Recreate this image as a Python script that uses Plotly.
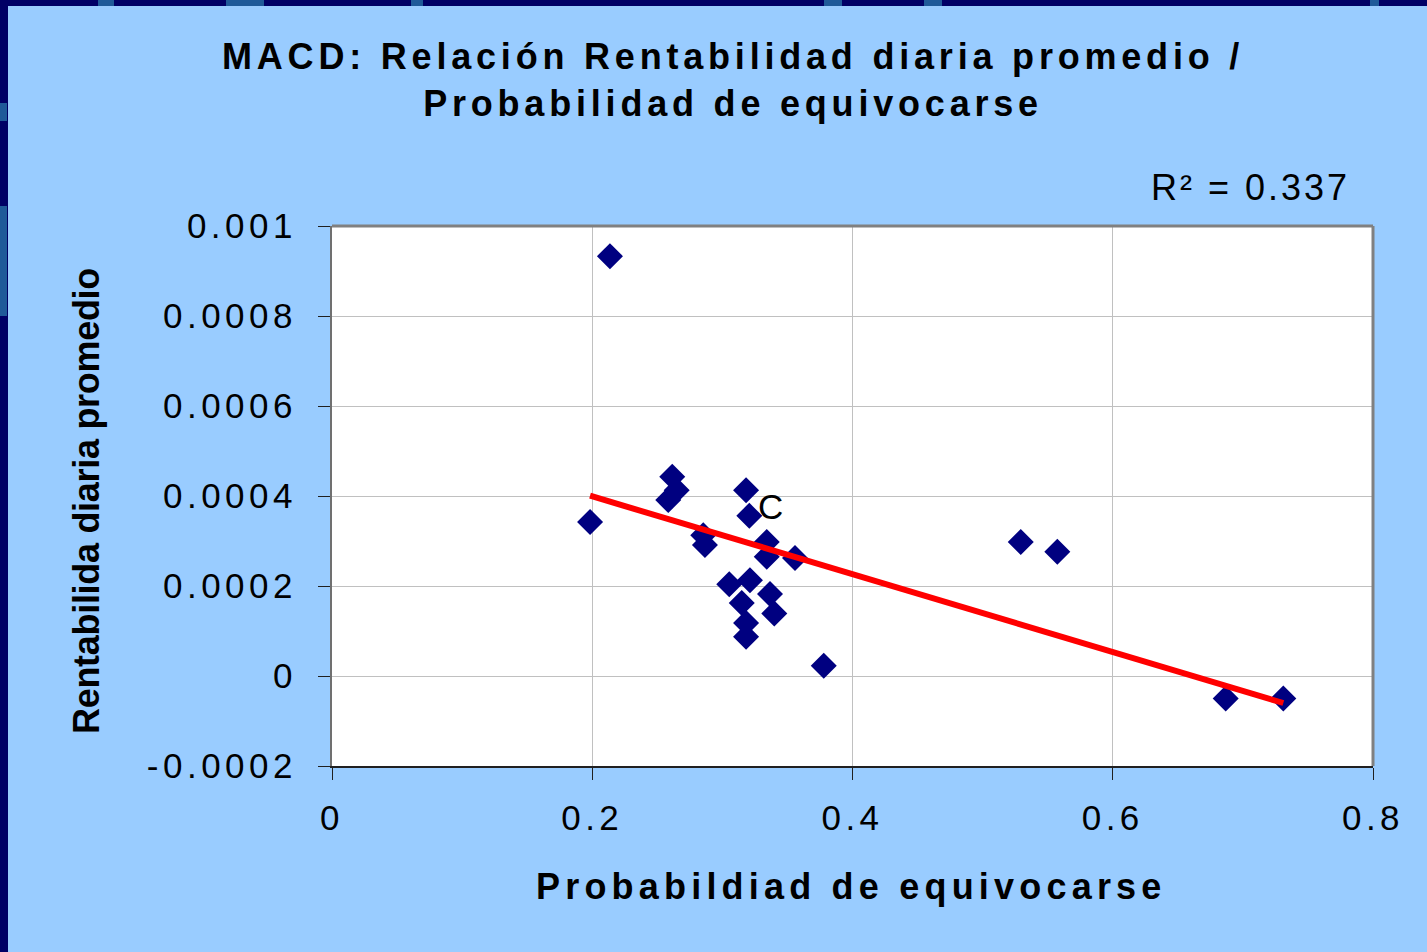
import numpy as np
import plotly.graph_objects as go

# probability of being wrong vs. average daily return
prob_error = [0.2136, 0.1983, 0.2615, 0.2649, 0.2584, 0.3182, 0.3207, 0.2853,
              0.2866, 0.3341, 0.3341, 0.3558, 0.3053, 0.3212, 0.3366, 0.3149,
              0.3399, 0.3182, 0.3182, 0.3779, 0.5293, 0.5574, 0.6868, 0.7311]
avg_return = [0.000933, 0.000342, 0.000443, 0.000413, 0.000391, 0.000413,
              0.000356, 0.000313, 0.000291, 0.000298, 0.000265, 0.000262,
              0.000204, 0.000213, 0.000182, 0.000162, 0.000139, 0.000118,
              0.000087, 0.000023, 0.000298, 0.000276, -0.000050, -0.000050]

x_ticks = [0, 0.2, 0.4, 0.6, 0.8]
x_ticktext = ['0', '0.2', '0.4', '0.6', '0.8']
y_ticks = [-0.0002, 0, 0.0002, 0.0004, 0.0006, 0.0008, 0.001]
y_ticktext = ['-0.0002', '0', '0.0002', '0.0004', '0.0006', '0.0008', '0.001']

label_point = (0.3366, 0.000376)
r2_text = 'R² = 0.337'

W, H = 1427, 952
L, R, T, B = 332, 54, 226, 186
FONT = 'Liberation Sans, Arial, sans-serif'
BG = '#99CCFF'
NAVY = '#000066'
SWOOSH = '#1F5A99'


def px(xp):
    return (xp - L) / (W - L - R)


def py(yp):
    return (H - B - yp) / (H - T - B)


def spaced(text, sp):
    # the original slide text is stretched wide
    return '<span style="letter-spacing:%.1fpx">%s</span>' % (sp, text)


def frame_rect(x0, x1, y0, y1, color):
    fig.add_shape(type='rect', xref='paper', yref='paper', layer='below',
                  x0=px(x0), x1=px(x1), y0=py(y1), y1=py(y0),
                  fillcolor=color, line=dict(width=0))


x = np.array(prob_error)
y = np.array(avg_return)
slope, intercept = np.polyfit(x, y, 1)
x_fit = np.array([x.min(), x.max()])
y_fit = slope * x_fit + intercept

fig = go.Figure()

fig.add_trace(go.Scatter(
    x=prob_error,
    y=avg_return,
    mode='markers',
    marker=dict(color='#000080', symbol='diamond', size=20, line=dict(width=0)),
    showlegend=False,
))
fig.add_trace(go.Scatter(
    x=x_fit,
    y=y_fit,
    mode='lines',
    line=dict(color='#FF0000', width=6),
    showlegend=False,
))

fig.add_annotation(
    x=label_point[0], y=label_point[1], text='C', showarrow=False,
    font=dict(family=FONT, size=35, color='black'),
    xanchor='center', yanchor='middle',
)
fig.add_annotation(
    xref='paper', yref='paper', x=px(733), y=py(80),
    text=spaced('MACD: Relación Rentabilidad diaria promedio /', 4.8) + '<br>'
    + spaced('Probabilidad de equivocarse', 4.8),
    showarrow=False, xanchor='center', yanchor='middle',
    font=dict(family=FONT, size=36, color='black', weight='bold'),
)
fig.add_annotation(
    xref='paper', yref='paper', x=px(1352), y=py(187), text=spaced(r2_text, 3.0),
    showarrow=False, xanchor='right', yanchor='middle',
    font=dict(family=FONT, size=36, color='black'),
)
fig.add_annotation(
    xref='paper', yref='paper', x=px(851), y=py(886),
    text=spaced('Probabildiad de equivocarse', 5.2), showarrow=False,
    xanchor='center', yanchor='middle',
    font=dict(family=FONT, size=36, color='black', weight='bold'),
)
fig.add_annotation(
    xref='paper', yref='paper', x=px(86), y=py(501),
    text=spaced('Rentabilida diaria promedio', -0.3), showarrow=False, textangle=-90,
    xanchor='center', yanchor='middle',
    font=dict(family=FONT, size=36, color='black', weight='bold'),
)

# plot area border (top and right) in grey
fig.add_shape(type='line', xref='paper', yref='paper', x0=0, x1=1, y0=1, y1=1,
              line=dict(color='#808080', width=3))
fig.add_shape(type='line', xref='paper', yref='paper', x0=1, x1=1, y0=0, y1=1,
              line=dict(color='#808080', width=3))

# dark frame of the slide on the left and top edges, with its lighter streaks
frame_rect(0, 8, 0, H, NAVY)
frame_rect(0, W, 0, 6, NAVY)
for a, b in [(98, 114), (226, 264), (411, 423), (824, 842), (924, 942), (1370, 1379)]:
    frame_rect(a, b, 0, 6, SWOOSH)
for a, b in [(103, 121), (206, 316)]:
    frame_rect(0, 7, a, b, SWOOSH)

fig.update_layout(
    width=W, height=H,
    margin=dict(l=L, r=R, t=T, b=B),
    paper_bgcolor=BG,
    plot_bgcolor='white',
    font=dict(family=FONT, size=35, color='black'),
    xaxis=dict(
        range=[0, 0.8], tickvals=x_ticks,
        ticktext=[spaced(t, 4.5) for t in x_ticktext],
        showgrid=True, gridcolor='#C0C0C0', gridwidth=1,
        showline=True, linecolor='#202020', linewidth=2,
        ticks='outside', ticklen=12, tickcolor='#202020', tickwidth=1,
        zeroline=False, ticklabelstandoff=8,
    ),
    yaxis=dict(
        range=[-0.0002, 0.001], tickvals=y_ticks,
        ticktext=[spaced(t, 4.5) for t in y_ticktext],
        showgrid=True, gridcolor='#C0C0C0', gridwidth=1,
        showline=True, linecolor='#707070', linewidth=2,
        ticks='outside', ticklen=12, tickcolor='#202020', tickwidth=1,
        zeroline=False, ticklabelstandoff=14,
    ),
)

fig.write_html('out.html', config={'displayModeBar': False},
               post_script="document.body.style.margin='0px';")
